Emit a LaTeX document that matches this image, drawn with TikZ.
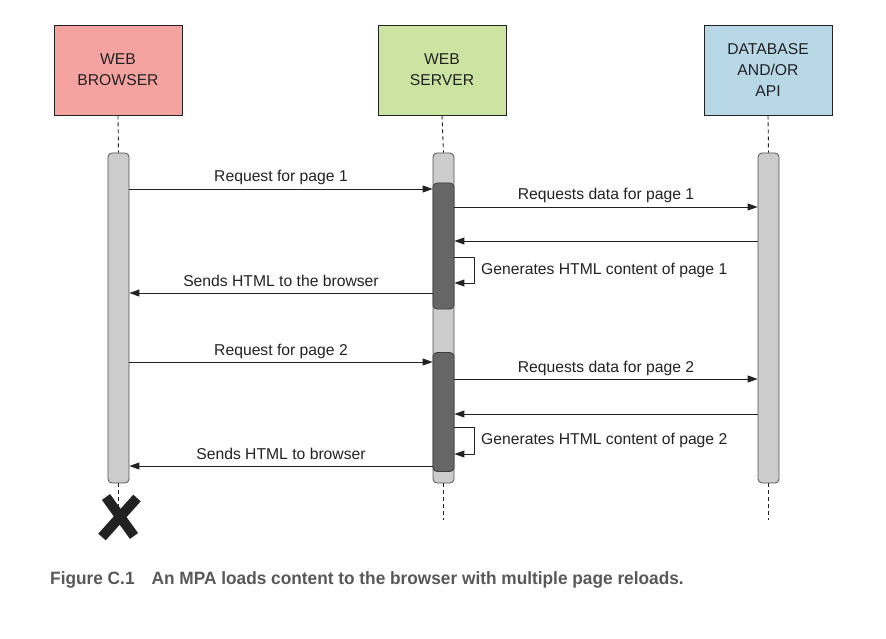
\documentclass[tikz,border=0pt]{standalone}
\usepackage{fontspec}
\setmainfont{Liberation Sans}
\newfontfamily\capfont[FakeStretch=0.97]{Liberation Sans}
\usetikzlibrary{arrows.meta}
\definecolor{pinkc}{RGB}{245,163,160}
\definecolor{greenc}{RGB}{204,228,162}
\definecolor{bluec}{RGB}{184,216,232}
\definecolor{barlight}{RGB}{204,204,204}
\definecolor{bardark}{RGB}{102,102,102}
\definecolor{inkc}{RGB}{34,34,34}
\definecolor{capc}{RGB}{88,88,88}
\tikzset{
  actor/.style={draw=inkc, line width=0.9pt, minimum width=128pt, minimum height=90pt, align=center, inner sep=0pt, text=inkc, font=\fontsize{15.7}{21}\selectfont},
  barl/.style={draw=bardark!80!black, line width=0.8pt, fill=barlight, rounded corners=4pt, minimum width=21pt, inner sep=0pt},
  bard/.style={draw=bardark!60!black, line width=0.8pt, fill=bardark, rounded corners=4pt, minimum width=21pt, inner sep=0pt},
  life/.style={draw=inkc, line width=0.9pt, dash pattern=on 4pt off 3pt},
  msg/.style={draw=inkc, line width=0.9pt, -{Triangle[length=10pt,width=7pt]}},
  lbl/.style={text=inkc, font=\fontsize{15.7}{19}\selectfont, inner sep=0pt},
}
\begin{document}
\begin{tikzpicture}[x=1pt,y=-1pt]
\useasboundingbox (0,0) rectangle (886,639);
% actors
\node[actor, fill=pinkc] (browser) at (118,70) {WEB\\BROWSER};
\node[actor, fill=greenc] (server) at (442,70) {WEB\\SERVER};
\node[actor, fill=bluec] (db) at (768,70) {DATABASE\\AND/OR\\API};
% bars
\node[barl, minimum height=330pt] (bb) at (118.5,318) {};
\node[barl, minimum height=330pt] (sb) at (443.5,318) {};
\node[barl, minimum height=330pt] (dbb) at (768.5,318) {};
\node[bard, minimum height=126pt] (sd1) at (443.5,246) {};
\node[bard, minimum height=119pt] (sd2) at (443.5,412) {};
% lifelines
\draw[life] (browser.south) -- (bb.north);
\draw[life] (server.south) -- (sb.north);
\draw[life] (db.south) -- (dbb.north);
\coordinate (bend) at (118.5,510);
\coordinate (send) at (443.5,520);
\coordinate (dend) at (768.5,520);
\draw[life] (bb.south) -- (bend);
\draw[life] (sb.south) -- (send);
\draw[life] (dbb.south) -- (dend);
% X
\draw[inkc, line width=10pt] (106,497) -- (134,536);
\draw[inkc, line width=10pt] (137,498) -- (102,537);
% page 1
\draw[msg] (bb.east |- 0,189) -- node[lbl, anchor=base, yshift=7pt]{Request for page 1} (sd1.west |- 0,189);
\draw[msg] (sd1.east |- 0,207) -- node[lbl, anchor=base, yshift=7pt]{Requests data for page 1} (dbb.west |- 0,207);
\draw[msg] (dbb.west |- 0,241) -- (sd1.east |- 0,241);
\draw[msg] (sd1.east |- 0,257) -| (474,283) -- (sd1.east |- 0,283);
\node[lbl, anchor=west] (g1) at (481,270) {Generates HTML content of page 1};
\draw[msg] (sd1.west |- 0,293) -- node[lbl, anchor=base, yshift=7pt]{Sends HTML to the browser} (bb.east |- 0,293);
% page 2
\draw[msg] (bb.east |- 0,362) -- node[lbl, anchor=base, yshift=7pt]{Request for page 2} (sd2.west |- 0,362);
\draw[msg] (sd2.east |- 0,379) -- node[lbl, anchor=base, yshift=7pt]{Requests data for page 2} (dbb.west |- 0,379);
\draw[msg] (dbb.west |- 0,414) -- (sd2.east |- 0,414);
\draw[msg] (sd2.east |- 0,427) -| (474,454) -- (sd2.east |- 0,454);
\node[lbl, anchor=west] (g2) at (481,440) {Generates HTML content of page 2};
\draw[msg] (sd2.west |- 0,466) -- node[lbl, anchor=base, yshift=7pt]{Sends HTML to browser} (bb.east |- 0,466);
% caption
\node[anchor=west, inner sep=0pt, text=capc, font=\capfont\bfseries\fontsize{17.8}{20}\selectfont] (cap) at (50,580) {Figure C.1\hspace{17pt}An MPA loads content to the browser with multiple page reloads.};
\end{tikzpicture}
\end{document}
